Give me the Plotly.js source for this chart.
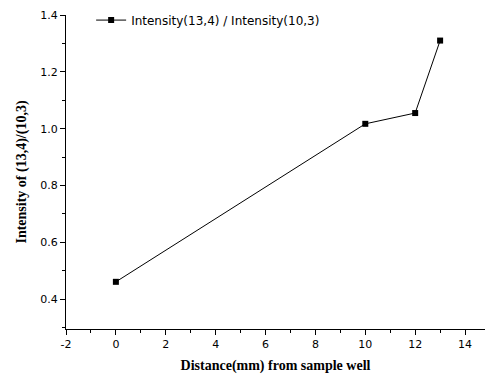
<!DOCTYPE html>
<html><head><meta charset="utf-8">
<script src="https://cdn.plot.ly/plotly-3.0.1.min.js"></script>
<style>html,body{margin:0;padding:0;background:#fff}#c{width:488px;height:378px}</style>
</head><body><div id="c"></div>
<script>
var distance = [0, 10, 12, 13];
var ratio = [0.461, 1.017, 1.055, 1.31];
var xTicks = [-2, 0, 2, 4, 6, 8, 10, 12, 14];
var yTicks = [0.4, 0.6, 0.8, 1.0, 1.2, 1.4];
var seriesName = "Intensity(13,4) / Intensity(10,3)";

var trace = {
  x: distance, y: ratio, mode: 'lines+markers', name: seriesName,
  line: {color: '#000', width: 1},
  marker: {symbol: 'square', size: 6, color: '#000'}
};
var layout = {
  width: 488, height: 378,
  margin: {l: 66, r: 3, t: 15, b: 49},
  paper_bgcolor: '#fff', plot_bgcolor: '#fff',
  showlegend: true,
  legend: {x: 0.06, y: 1.03, xanchor: 'left', yanchor: 'top', bgcolor: 'rgba(0,0,0,0)',
    font: {family: 'DejaVu Sans, sans-serif', size: 12, color: '#000'}},
  xaxis: {
    range: [-2, 14.8], tickvals: xTicks, ticktext: xTicks.map(String),
    showgrid: false, zeroline: false, showline: true, linecolor: '#000', linewidth: 1,
    ticks: 'outside', ticklen: 5, tickcolor: '#000',
    minor: {dtick: 1, ticks: 'outside', ticklen: 3, tickcolor: '#000', showgrid: false},
    tickfont: {family: 'DejaVu Sans, sans-serif', size: 11, color: '#000'},
    title: {text: 'Distance(mm) from sample well', standoff: 9,
      font: {family: 'Liberation Serif, Times New Roman, serif', size: 14, color: '#000', weight: 'bold'}}
  },
  yaxis: {
    range: [0.295, 1.4], tickvals: yTicks, ticktext: yTicks.map(function(v){return v.toFixed(1);}),
    showgrid: false, zeroline: false, showline: true, linecolor: '#000', linewidth: 1,
    ticks: 'outside', ticklen: 5, tickcolor: '#000',
    minor: {dtick: 0.1, ticks: 'outside', ticklen: 3, tickcolor: '#000', showgrid: false},
    tickfont: {family: 'DejaVu Sans, sans-serif', size: 11, color: '#000'},
    title: {text: 'Intensity of (13,4)/(10,3)', standoff: 10,
      font: {family: 'Liberation Serif, Times New Roman, serif', size: 14, color: '#000', weight: 'bold'}}
  }
};
Plotly.newPlot('c', [trace], layout, {displayModeBar: false, staticPlot: true});
</script></body></html>
